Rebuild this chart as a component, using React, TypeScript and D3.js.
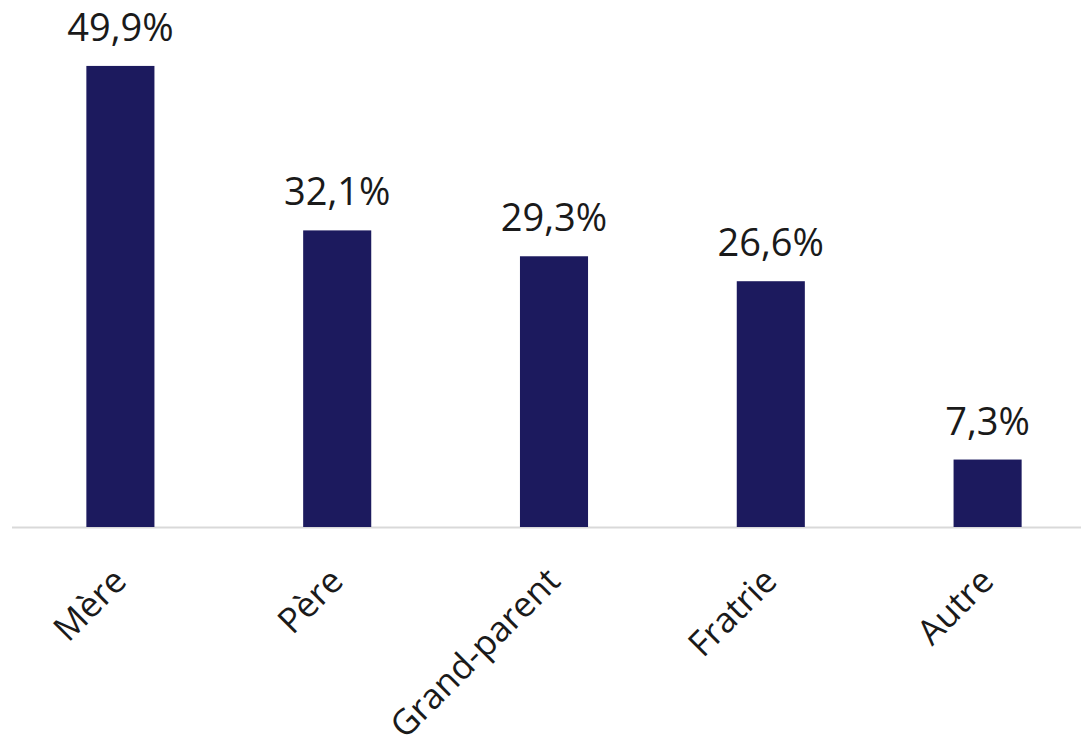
import React from "react";
import * as d3 from "d3";

const categories = ["Mère", "Père", "Grand-parent", "Fratrie", "Autre"];
const values = [49.9, 32.1, 29.3, 26.6, 7.3];
const valueLabels = ["49,9%", "32,1%", "29,3%", "26,6%", "7,3%"];

const W = 1081;
const H = 745;
const FONT = "'Open Sans', sans-serif";

export default function App() {
  const x = d3.scaleBand<string>().domain(categories).range([12, 1096]).paddingInner(0.686).paddingOuter(0.343);
  const y = d3.scaleLinear().domain([0, 50]).range([527, 65]);
  const baseY = y(0);
  return (
    <svg width={W} height={H} style={{ position: "absolute", left: 0, top: 0, background: "#fff" }}>
      <line x1={12} x2={W} y1={baseY + 0.5} y2={baseY + 0.5} stroke="#d9d9d9" strokeWidth={2} />
      {categories.map((c, i) => {
        const bx = x(c)!;
        const cx = bx + x.bandwidth() / 2;
        return (
          <g key={c}>
            <rect x={bx} y={y(values[i])} width={x.bandwidth()} height={baseY - y(values[i])} fill="#1c1a5e" />
            <text x={cx} y={y(values[i]) - 25} textAnchor="middle" fontFamily={FONT} fontSize={38} fill="#1a1a1a">
              {valueLabels[i]}
            </text>
            <text
              transform={`translate(${cx + 8},${baseY + 56}) rotate(-45)`}
              textAnchor="end"
              fontFamily={FONT}
              fontSize={35}
              fill="#1a1a1a"
            >
              {c}
            </text>
          </g>
        );
      })}
    </svg>
  );
}
